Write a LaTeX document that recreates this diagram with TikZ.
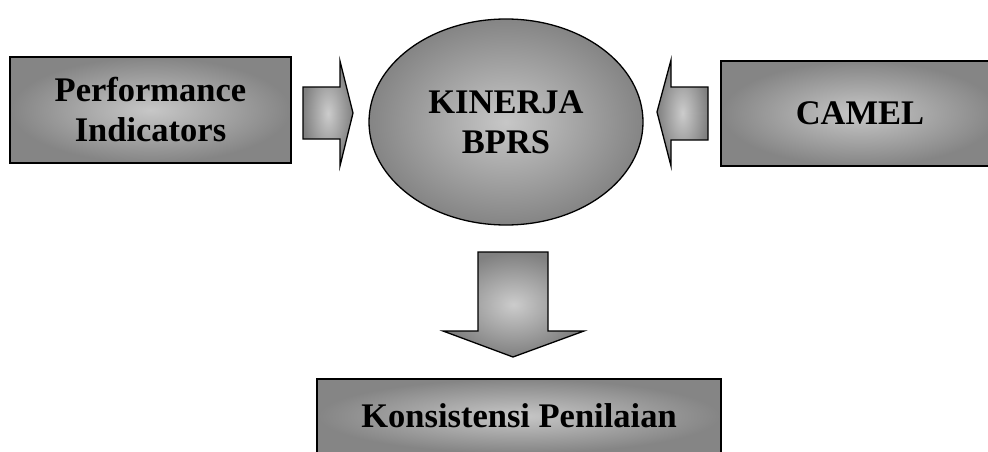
\documentclass[tikz,border=0pt]{standalone}
\usepackage{fontspec}
\setmainfont{Liberation Serif}
\usepackage{tikz}
\usetikzlibrary{positioning}
\usetikzlibrary{shapes}
\tikzset{box node/.style={rectangle,draw,line width=1.3pt,inner color=black!22,outer color=black!48,align=center,inner sep=0pt},
blk arrow/.style={draw,line width=1.3pt,line join=miter,inner color=black!20,outer color=black!50},}

\begin{document}
\begin{tikzpicture}[x=1pt, y=-1pt, font=\bfseries\fontsize{34.5}{40}\selectfont]
	\useasboundingbox (0,0) rectangle (988,452);
		\node[box node, minimum width=281pt, minimum height=106pt] (pi) at (150.5,110) {Performance\\Indicators};
	    \node[box node, ellipse, minimum width=274pt, minimum height=206pt] (kb) at (506,122) {KINERJA\\BPRS};
	    \node[box node, minimum width=278pt, minimum height=105pt] (camel) at (860,113.5) {CAMEL};
	    \node[box node, minimum width=404pt, minimum height=74pt] (kp) at (519,416) {Konsistensi Penilaian};
	
	    % block arrows
	    \path[blk arrow] (303,87) -- (340,87) -- (340,61) -- (353,113) -- (340,166) -- (340,139) -- (303,139) -- cycle;
	    \path[blk arrow] (708,87) -- (671,87) -- (671,60) -- (657,112) -- (671,166) -- (671,140) -- (708,140) -- cycle;
	    \path[blk arrow] (478,252) -- (548,252) -- (548,331) -- (584,331) -- (513,357) -- (443,331) -- (478,331) -- cycle;
\end{tikzpicture}
\end{document}
